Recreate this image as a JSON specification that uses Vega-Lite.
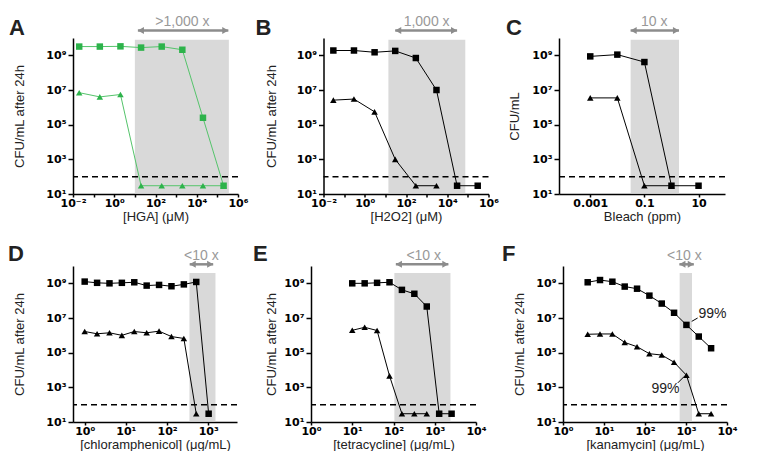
{
"$schema": "https://vega.github.io/schema/vega-lite/v6.json",
"padding": {"left": 8, "top": 15, "right": 0, "bottom": 0},
"spacing": 20,
"datasets": {
"pts": [
{"panel":"A","series":"square","conc":0.02,"cfu":3.2e9},{"panel":"A","series":"square","conc":0.2,"cfu":3.2e9},{"panel":"A","series":"square","conc":2,"cfu":3.3e9},{"panel":"A","series":"square","conc":20,"cfu":2.8e9},{"panel":"A","series":"square","conc":200,"cfu":3.2e9},{"panel":"A","series":"square","conc":2000,"cfu":2.1e9},{"panel":"A","series":"square","conc":20000,"cfu":2.5e5},{"panel":"A","series":"square","conc":200000,"cfu":30},
{"panel":"A","series":"triangle","conc":0.02,"cfu":7e6},{"panel":"A","series":"triangle","conc":0.2,"cfu":4e6},{"panel":"A","series":"triangle","conc":2,"cfu":5.5e6},{"panel":"A","series":"triangle","conc":20,"cfu":30},{"panel":"A","series":"triangle","conc":200,"cfu":30},{"panel":"A","series":"triangle","conc":2000,"cfu":30},{"panel":"A","series":"triangle","conc":20000,"cfu":30},{"panel":"A","series":"triangle","conc":200000,"cfu":30},
{"panel":"B","series":"square","conc":0.03,"cfu":1.9e9},{"panel":"B","series":"square","conc":0.3,"cfu":1.9e9},{"panel":"B","series":"square","conc":3,"cfu":1.5e9},{"panel":"B","series":"square","conc":30,"cfu":1.8e9},{"panel":"B","series":"square","conc":300,"cfu":7e8},{"panel":"B","series":"square","conc":3000,"cfu":1e7},{"panel":"B","series":"square","conc":30000,"cfu":30},{"panel":"B","series":"square","conc":300000,"cfu":30},
{"panel":"B","series":"triangle","conc":0.03,"cfu":2.6e6},{"panel":"B","series":"triangle","conc":0.3,"cfu":3e6},{"panel":"B","series":"triangle","conc":3,"cfu":5.5e5},{"panel":"B","series":"triangle","conc":30,"cfu":1000},{"panel":"B","series":"triangle","conc":300,"cfu":30},{"panel":"B","series":"triangle","conc":3000,"cfu":30},
{"panel":"C","series":"square","conc":0.001,"cfu":8.7e8},{"panel":"C","series":"square","conc":0.01,"cfu":1.1e9},{"panel":"C","series":"square","conc":0.1,"cfu":4.1e8},{"panel":"C","series":"square","conc":1,"cfu":30},{"panel":"C","series":"square","conc":10,"cfu":30},
{"panel":"C","series":"triangle","conc":0.001,"cfu":3.5e6},{"panel":"C","series":"triangle","conc":0.01,"cfu":3.5e6},{"panel":"C","series":"triangle","conc":0.1,"cfu":30},{"panel":"C","series":"triangle","conc":1,"cfu":30},
{"panel":"D","series":"square","conc":1,"cfu":1.26e9},{"panel":"D","series":"square","conc":2,"cfu":1.07e9},{"panel":"D","series":"square","conc":4,"cfu":1e9},{"panel":"D","series":"square","conc":8,"cfu":1.07e9},{"panel":"D","series":"square","conc":16,"cfu":1.15e9},{"panel":"D","series":"square","conc":32,"cfu":7.4e8},{"panel":"D","series":"square","conc":64,"cfu":8.1e8},{"panel":"D","series":"square","conc":128,"cfu":6.8e8},{"panel":"D","series":"square","conc":256,"cfu":8.7e8},{"panel":"D","series":"square","conc":512,"cfu":1.2e9},{"panel":"D","series":"square","conc":1024,"cfu":30},
{"panel":"D","series":"triangle","conc":1,"cfu":1.66e6},{"panel":"D","series":"triangle","conc":2,"cfu":1.23e6},{"panel":"D","series":"triangle","conc":4,"cfu":1.4e6},{"panel":"D","series":"triangle","conc":8,"cfu":1e6},{"panel":"D","series":"triangle","conc":16,"cfu":1.66e6},{"panel":"D","series":"triangle","conc":32,"cfu":1.4e6},{"panel":"D","series":"triangle","conc":64,"cfu":1.74e6},{"panel":"D","series":"triangle","conc":128,"cfu":8.5e5},{"panel":"D","series":"triangle","conc":256,"cfu":6.6e5},{"panel":"D","series":"triangle","conc":512,"cfu":30},
{"panel":"E","series":"square","conc":10,"cfu":1e9},{"panel":"E","series":"square","conc":20,"cfu":1e9},{"panel":"E","series":"square","conc":40,"cfu":1.07e9},{"panel":"E","series":"square","conc":80,"cfu":1.15e9},{"panel":"E","series":"square","conc":160,"cfu":4.2e8},{"panel":"E","series":"square","conc":320,"cfu":2.5e8},{"panel":"E","series":"square","conc":640,"cfu":4.6e7},{"panel":"E","series":"square","conc":1280,"cfu":30},{"panel":"E","series":"square","conc":2560,"cfu":30},
{"panel":"E","series":"triangle","conc":10,"cfu":1.95e6},{"panel":"E","series":"triangle","conc":20,"cfu":2.9e6},{"panel":"E","series":"triangle","conc":40,"cfu":1.9e6},{"panel":"E","series":"triangle","conc":80,"cfu":4600},{"panel":"E","series":"triangle","conc":160,"cfu":30},{"panel":"E","series":"triangle","conc":320,"cfu":30},{"panel":"E","series":"triangle","conc":640,"cfu":30},
{"panel":"F","series":"square","conc":4,"cfu":1.15e9},{"panel":"F","series":"square","conc":8,"cfu":1.55e9},{"panel":"F","series":"square","conc":16,"cfu":1.24e9},{"panel":"F","series":"square","conc":32,"cfu":6.5e8},{"panel":"F","series":"square","conc":64,"cfu":4.9e8},{"panel":"F","series":"square","conc":128,"cfu":1.95e8},{"panel":"F","series":"square","conc":256,"cfu":6.8e7},{"panel":"F","series":"square","conc":512,"cfu":2e7},{"panel":"F","series":"square","conc":1024,"cfu":4e6},{"panel":"F","series":"square","conc":2048,"cfu":8.5e5},{"panel":"F","series":"square","conc":4096,"cfu":1.8e5},
{"panel":"F","series":"triangle","conc":4,"cfu":1.15e6},{"panel":"F","series":"triangle","conc":8,"cfu":1.2e6},{"panel":"F","series":"triangle","conc":16,"cfu":1.2e6},{"panel":"F","series":"triangle","conc":32,"cfu":3.9e5},{"panel":"F","series":"triangle","conc":64,"cfu":2.2e5},{"panel":"F","series":"triangle","conc":128,"cfu":8.7e4},{"panel":"F","series":"triangle","conc":256,"cfu":7.3e4},{"panel":"F","series":"triangle","conc":512,"cfu":2.8e4},{"panel":"F","series":"triangle","conc":1024,"cfu":5000},{"panel":"F","series":"triangle","conc":2048,"cfu":30},{"panel":"F","series":"triangle","conc":4096,"cfu":30}
],
"shade": [
{"panel":"A","lo":10,"hi":360000,"arrowLo":14,"arrowHi":340000,"labelAt":2000,"label":">1,000 x","limit":100},
{"panel":"B","lo":14,"hi":75000,"arrowLo":30,"arrowHi":30000,"labelAt":1000,"label":"1,000 x","limit":100},
{"panel":"C","lo":0.031,"hi":1.9,"arrowLo":0.031,"arrowHi":1.9,"labelAt":0.23,"label":"10 x","limit":100},
{"panel":"D","lo":350,"hi":1500,"arrowLo":355,"arrowHi":1320,"labelAt":680,"label":"<10 x","limit":100},
{"panel":"E","lo":105,"hi":2400,"arrowLo":114,"arrowHi":2140,"labelAt":540,"label":"<10 x","limit":100},
{"panel":"F","lo":700,"hi":1400,"arrowLo":690,"arrowHi":1550,"labelAt":910,"label":"<10 x","limit":100}
],
"notes": [
{"panel":"F","x1":1380,"x2":1920,"y1":6.4e6,"y2":1e7,"tx":4420,"ty":1.7e7,"label":"99%"},
{"panel":"F","x1":630,"x2":910,"y1":1800,"y2":4300,"tx":317,"ty":800,"label":"99%"}
]
},
"vconcat": [
{"spacing": 6.5, "hconcat": [
{"width":165,"height":156,"title":{"text":"A","dx":-64,"offset":-25},
"layer":[
{"data":{"name":"shade"},"transform":[{"filter":"datum.panel=='A'"}],"mark":{"type":"rect","color":"#d9d9d9"},
"encoding":{"x":{"field":"lo","type":"quantitative","scale":{"type":"log","domain":[0.01,1000000],"nice":false},"axis":{"title":"[HGA] (μM)","values":[0.01,0.1,1,10,100,1000,10000,100000,1000000],"labelExpr":"round(log(datum.value)/LN10) % 2 == 0 ? '10' + ['⁻²','⁻¹','⁰','¹','²','³','⁴','⁵','⁶'][round(log(datum.value)/LN10)+2] : ''"}},"x2":{"field":"hi"},
"y":{"datum":11,"type":"quantitative","scale":{"type":"log","domain":[10,1e10],"nice":false},"axis":{"title":"CFU/mL after 24h","titlePadding":22.5,"values":[10,1000,100000,10000000,1000000000],"labelExpr":"'10' + ['⁰','¹','²','³','⁴','⁵','⁶','⁷','⁸','⁹'][round(log(datum.value)/LN10)]"}},"y2":{"datum":8e9}}},
{"data":{"name":"shade"},"transform":[{"filter":"datum.panel=='A'"}],"mark":{"type":"rule","color":"#000","strokeWidth":1.5,"strokeDash":[6,4]},"encoding":{"y":{"field":"limit","type":"quantitative","scale":{"type":"log","domain":[10,1e10],"nice":false}}}},
{"data":{"name":"pts"},"transform":[{"filter":"datum.panel=='A'"}],"mark":{"type":"line","color":"#55c46b","strokeWidth":1},"encoding":{"x":{"field":"conc","type":"quantitative","scale":{"type":"log","domain":[0.01,1000000],"nice":false}},"y":{"field":"cfu","type":"quantitative","scale":{"type":"log","domain":[10,1e10],"nice":false}},"detail":{"field":"series"}}},
{"data":{"name":"pts"},"transform":[{"filter":"datum.panel=='A'"}],"mark":{"type":"point","filled":true,"opacity":1,"color":"#2db34b","size":42},"encoding":{"x":{"field":"conc","type":"quantitative","scale":{"type":"log","domain":[0.01,1000000],"nice":false}},"y":{"field":"cfu","type":"quantitative","scale":{"type":"log","domain":[10,1e10],"nice":false}},"shape":{"field":"series","type":"nominal","scale":{"domain":["square","triangle"],"range":["square","triangle-up"]},"legend":null}}},
{"data":{"name":"shade"},"transform":[{"filter":"datum.panel=='A'"}],"mark":{"type":"rule","color":"#8c8c8c","strokeWidth":2.5},"encoding":{"x":{"field":"arrowLo","type":"quantitative","scale":{"type":"log","domain":[0.01,1000000],"nice":false}},"x2":{"field":"arrowHi"},"y":{"datum":2.7e10,"type":"quantitative","scale":{"type":"log","domain":[10,1e10],"nice":false}}}},
{"data":{"name":"shade"},"transform":[{"filter":"datum.panel=='A'"}],"mark":{"type":"point","shape":"triangle-left","filled":true,"opacity":1,"color":"#8c8c8c","size":50,"xOffset":3},"encoding":{"x":{"field":"arrowLo","type":"quantitative","scale":{"type":"log","domain":[0.01,1000000],"nice":false}},"y":{"datum":2.7e10,"type":"quantitative","scale":{"type":"log","domain":[10,1e10],"nice":false}}}},
{"data":{"name":"shade"},"transform":[{"filter":"datum.panel=='A'"}],"mark":{"type":"point","shape":"triangle-right","filled":true,"opacity":1,"color":"#8c8c8c","size":50,"xOffset":-3},"encoding":{"x":{"field":"arrowHi","type":"quantitative","scale":{"type":"log","domain":[0.01,1000000],"nice":false}},"y":{"datum":2.7e10,"type":"quantitative","scale":{"type":"log","domain":[10,1e10],"nice":false}}}},
{"data":{"name":"shade"},"transform":[{"filter":"datum.panel=='A'"}],"mark":{"type":"text","color":"#999999","fontSize":14,"align":"center","baseline":"middle"},"encoding":{"x":{"field":"labelAt","type":"quantitative","scale":{"type":"log","domain":[0.01,1000000],"nice":false}},"y":{"datum":8.3e10,"type":"quantitative","scale":{"type":"log","domain":[10,1e10],"nice":false}},"text":{"field":"label"}}}
]},
{"width":165,"height":156,"title":{"text":"B","dx":-68,"offset":-25},
"layer":[
{"data":{"name":"shade"},"transform":[{"filter":"datum.panel=='B'"}],"mark":{"type":"rect","color":"#d9d9d9"},
"encoding":{"x":{"field":"lo","type":"quantitative","scale":{"type":"log","domain":[0.01,1000000],"nice":false},"axis":{"title":"[H2O2] (μM)","values":[0.01,0.1,1,10,100,1000,10000,100000,1000000],"labelExpr":"round(log(datum.value)/LN10) % 2 == 0 ? '10' + ['⁻²','⁻¹','⁰','¹','²','³','⁴','⁵','⁶'][round(log(datum.value)/LN10)+2] : ''"}},"x2":{"field":"hi"},
"y":{"datum":11,"type":"quantitative","scale":{"type":"log","domain":[10,1e10],"nice":false},"axis":{"title":"CFU/mL after  24h","titlePadding":21.5,"values":[10,1000,100000,10000000,1000000000],"labelExpr":"'10' + ['⁰','¹','²','³','⁴','⁵','⁶','⁷','⁸','⁹'][round(log(datum.value)/LN10)]"}},"y2":{"datum":8e9}}},
{"data":{"name":"shade"},"transform":[{"filter":"datum.panel=='B'"}],"mark":{"type":"rule","color":"#000","strokeWidth":1.5,"strokeDash":[6,4]},"encoding":{"y":{"field":"limit","type":"quantitative","scale":{"type":"log","domain":[10,1e10],"nice":false}}}},
{"data":{"name":"pts"},"transform":[{"filter":"datum.panel=='B'"}],"mark":{"type":"line","color":"#000","strokeWidth":1},"encoding":{"x":{"field":"conc","type":"quantitative","scale":{"type":"log","domain":[0.01,1000000],"nice":false}},"y":{"field":"cfu","type":"quantitative","scale":{"type":"log","domain":[10,1e10],"nice":false}},"detail":{"field":"series"}}},
{"data":{"name":"pts"},"transform":[{"filter":"datum.panel=='B'"}],"mark":{"type":"point","filled":true,"opacity":1,"color":"#000","size":42},"encoding":{"x":{"field":"conc","type":"quantitative","scale":{"type":"log","domain":[0.01,1000000],"nice":false}},"y":{"field":"cfu","type":"quantitative","scale":{"type":"log","domain":[10,1e10],"nice":false}},"shape":{"field":"series","type":"nominal","scale":{"domain":["square","triangle"],"range":["square","triangle-up"]},"legend":null}}},
{"data":{"name":"shade"},"transform":[{"filter":"datum.panel=='B'"}],"mark":{"type":"rule","color":"#8c8c8c","strokeWidth":2.5},"encoding":{"x":{"field":"arrowLo","type":"quantitative","scale":{"type":"log","domain":[0.01,1000000],"nice":false}},"x2":{"field":"arrowHi"},"y":{"datum":2.7e10,"type":"quantitative","scale":{"type":"log","domain":[10,1e10],"nice":false}}}},
{"data":{"name":"shade"},"transform":[{"filter":"datum.panel=='B'"}],"mark":{"type":"point","shape":"triangle-left","filled":true,"opacity":1,"color":"#8c8c8c","size":50,"xOffset":3},"encoding":{"x":{"field":"arrowLo","type":"quantitative","scale":{"type":"log","domain":[0.01,1000000],"nice":false}},"y":{"datum":2.7e10,"type":"quantitative","scale":{"type":"log","domain":[10,1e10],"nice":false}}}},
{"data":{"name":"shade"},"transform":[{"filter":"datum.panel=='B'"}],"mark":{"type":"point","shape":"triangle-right","filled":true,"opacity":1,"color":"#8c8c8c","size":50,"xOffset":-3},"encoding":{"x":{"field":"arrowHi","type":"quantitative","scale":{"type":"log","domain":[0.01,1000000],"nice":false}},"y":{"datum":2.7e10,"type":"quantitative","scale":{"type":"log","domain":[10,1e10],"nice":false}}}},
{"data":{"name":"shade"},"transform":[{"filter":"datum.panel=='B'"}],"mark":{"type":"text","color":"#999999","fontSize":14,"align":"center","baseline":"middle"},"encoding":{"x":{"field":"labelAt","type":"quantitative","scale":{"type":"log","domain":[0.01,1000000],"nice":false}},"y":{"datum":8.3e10,"type":"quantitative","scale":{"type":"log","domain":[10,1e10],"nice":false}},"text":{"field":"label"}}}
]},
{"width":166,"height":156,"title":{"text":"C","dx":-53,"offset":-25},
"layer":[
{"data":{"name":"shade"},"transform":[{"filter":"datum.panel=='C'"}],"mark":{"type":"rect","color":"#d9d9d9"},
"encoding":{"x":{"field":"lo","type":"quantitative","scale":{"type":"log","domain":[0.00007,95],"nice":false},"axis":{"title":"Bleach (ppm)","values":[0.001,0.1,10],"format":"~g"}},"x2":{"field":"hi"},
"y":{"datum":11,"type":"quantitative","scale":{"type":"log","domain":[10,1e10],"nice":false},"axis":{"title":"CFU/mL","titlePadding":13.5,"values":[10,1000,100000,10000000,1000000000],"labelExpr":"'10' + ['⁰','¹','²','³','⁴','⁵','⁶','⁷','⁸','⁹'][round(log(datum.value)/LN10)]"}},"y2":{"datum":8e9}}},
{"data":{"name":"shade"},"transform":[{"filter":"datum.panel=='C'"}],"mark":{"type":"rule","color":"#000","strokeWidth":1.5,"strokeDash":[6,4]},"encoding":{"y":{"field":"limit","type":"quantitative","scale":{"type":"log","domain":[10,1e10],"nice":false}}}},
{"data":{"name":"pts"},"transform":[{"filter":"datum.panel=='C'"}],"mark":{"type":"line","color":"#000","strokeWidth":1},"encoding":{"x":{"field":"conc","type":"quantitative","scale":{"type":"log","domain":[0.00007,95],"nice":false}},"y":{"field":"cfu","type":"quantitative","scale":{"type":"log","domain":[10,1e10],"nice":false}},"detail":{"field":"series"}}},
{"data":{"name":"pts"},"transform":[{"filter":"datum.panel=='C'"}],"mark":{"type":"point","filled":true,"opacity":1,"color":"#000","size":42},"encoding":{"x":{"field":"conc","type":"quantitative","scale":{"type":"log","domain":[0.00007,95],"nice":false}},"y":{"field":"cfu","type":"quantitative","scale":{"type":"log","domain":[10,1e10],"nice":false}},"shape":{"field":"series","type":"nominal","scale":{"domain":["square","triangle"],"range":["square","triangle-up"]},"legend":null}}},
{"data":{"name":"shade"},"transform":[{"filter":"datum.panel=='C'"}],"mark":{"type":"rule","color":"#8c8c8c","strokeWidth":2.5},"encoding":{"x":{"field":"arrowLo","type":"quantitative","scale":{"type":"log","domain":[0.00007,95],"nice":false}},"x2":{"field":"arrowHi"},"y":{"datum":2.7e10,"type":"quantitative","scale":{"type":"log","domain":[10,1e10],"nice":false}}}},
{"data":{"name":"shade"},"transform":[{"filter":"datum.panel=='C'"}],"mark":{"type":"point","shape":"triangle-left","filled":true,"opacity":1,"color":"#8c8c8c","size":50,"xOffset":3},"encoding":{"x":{"field":"arrowLo","type":"quantitative","scale":{"type":"log","domain":[0.00007,95],"nice":false}},"y":{"datum":2.7e10,"type":"quantitative","scale":{"type":"log","domain":[10,1e10],"nice":false}}}},
{"data":{"name":"shade"},"transform":[{"filter":"datum.panel=='C'"}],"mark":{"type":"point","shape":"triangle-right","filled":true,"opacity":1,"color":"#8c8c8c","size":50,"xOffset":-3},"encoding":{"x":{"field":"arrowHi","type":"quantitative","scale":{"type":"log","domain":[0.00007,95],"nice":false}},"y":{"datum":2.7e10,"type":"quantitative","scale":{"type":"log","domain":[10,1e10],"nice":false}}}},
{"data":{"name":"shade"},"transform":[{"filter":"datum.panel=='C'"}],"mark":{"type":"text","color":"#999999","fontSize":14,"align":"center","baseline":"middle"},"encoding":{"x":{"field":"labelAt","type":"quantitative","scale":{"type":"log","domain":[0.00007,95],"nice":false}},"y":{"datum":8.3e10,"type":"quantitative","scale":{"type":"log","domain":[10,1e10],"nice":false}},"text":{"field":"label"}}}
]}
]},
{"spacing": 15, "hconcat": [
{"width":164,"height":156,"title":{"text":"D","dx":-65,"offset":-17},
"layer":[
{"data":{"name":"shade"},"transform":[{"filter":"datum.panel=='D'"}],"mark":{"type":"rect","color":"#d9d9d9"},
"encoding":{"x":{"field":"lo","type":"quantitative","scale":{"type":"log","domain":[0.52,5000],"nice":false},"axis":{"title":"[chloramphenicol] (μg/mL)","values":[1,10,100,1000],"labelExpr":"'10' + ['⁰','¹','²','³','⁴'][round(log(datum.value)/LN10)]"}},"x2":{"field":"hi"},
"y":{"datum":11,"type":"quantitative","scale":{"type":"log","domain":[10,1e10],"nice":false},"axis":{"title":"CFU/mL after  24h","titlePadding":22.5,"values":[10,1000,100000,10000000,1000000000],"labelExpr":"'10' + ['⁰','¹','²','³','⁴','⁵','⁶','⁷','⁸','⁹'][round(log(datum.value)/LN10)]"}},"y2":{"datum":4e9}}},
{"data":{"name":"shade"},"transform":[{"filter":"datum.panel=='D'"}],"mark":{"type":"rule","color":"#000","strokeWidth":1.5,"strokeDash":[6,4]},"encoding":{"y":{"field":"limit","type":"quantitative","scale":{"type":"log","domain":[10,1e10],"nice":false}}}},
{"data":{"name":"pts"},"transform":[{"filter":"datum.panel=='D'"}],"mark":{"type":"line","color":"#000","strokeWidth":1},"encoding":{"x":{"field":"conc","type":"quantitative","scale":{"type":"log","domain":[0.52,5000],"nice":false}},"y":{"field":"cfu","type":"quantitative","scale":{"type":"log","domain":[10,1e10],"nice":false}},"detail":{"field":"series"}}},
{"data":{"name":"pts"},"transform":[{"filter":"datum.panel=='D'"}],"mark":{"type":"point","filled":true,"opacity":1,"color":"#000","size":42},"encoding":{"x":{"field":"conc","type":"quantitative","scale":{"type":"log","domain":[0.52,5000],"nice":false}},"y":{"field":"cfu","type":"quantitative","scale":{"type":"log","domain":[10,1e10],"nice":false}},"shape":{"field":"series","type":"nominal","scale":{"domain":["square","triangle"],"range":["square","triangle-up"]},"legend":null}}},
{"data":{"name":"shade"},"transform":[{"filter":"datum.panel=='D'"}],"mark":{"type":"rule","color":"#8c8c8c","strokeWidth":2.5},"encoding":{"x":{"field":"arrowLo","type":"quantitative","scale":{"type":"log","domain":[0.52,5000],"nice":false}},"x2":{"field":"arrowHi"},"y":{"datum":1.25e10,"type":"quantitative","scale":{"type":"log","domain":[10,1e10],"nice":false}}}},
{"data":{"name":"shade"},"transform":[{"filter":"datum.panel=='D'"}],"mark":{"type":"point","shape":"triangle-left","filled":true,"opacity":1,"color":"#8c8c8c","size":50,"xOffset":3},"encoding":{"x":{"field":"arrowLo","type":"quantitative","scale":{"type":"log","domain":[0.52,5000],"nice":false}},"y":{"datum":1.25e10,"type":"quantitative","scale":{"type":"log","domain":[10,1e10],"nice":false}}}},
{"data":{"name":"shade"},"transform":[{"filter":"datum.panel=='D'"}],"mark":{"type":"point","shape":"triangle-right","filled":true,"opacity":1,"color":"#8c8c8c","size":50,"xOffset":-3},"encoding":{"x":{"field":"arrowHi","type":"quantitative","scale":{"type":"log","domain":[0.52,5000],"nice":false}},"y":{"datum":1.25e10,"type":"quantitative","scale":{"type":"log","domain":[10,1e10],"nice":false}}}},
{"data":{"name":"shade"},"transform":[{"filter":"datum.panel=='D'"}],"mark":{"type":"text","color":"#999999","fontSize":14,"align":"center","baseline":"middle"},"encoding":{"x":{"field":"labelAt","type":"quantitative","scale":{"type":"log","domain":[0.52,5000],"nice":false}},"y":{"datum":3.7e10,"type":"quantitative","scale":{"type":"log","domain":[10,1e10],"nice":false}},"text":{"field":"label"}}}
]},
{"width":165,"height":156,"title":{"text":"E","dx":-58,"offset":-17},
"layer":[
{"data":{"name":"shade"},"transform":[{"filter":"datum.panel=='E'"}],"mark":{"type":"rect","color":"#d9d9d9"},
"encoding":{"x":{"field":"lo","type":"quantitative","scale":{"type":"log","domain":[1,10000],"nice":false},"axis":{"title":"[tetracycline] (μg/mL)","values":[1,10,100,1000,10000],"labelExpr":"'10' + ['⁰','¹','²','³','⁴'][round(log(datum.value)/LN10)]"}},"x2":{"field":"hi"},
"y":{"datum":11,"type":"quantitative","scale":{"type":"log","domain":[10,1e10],"nice":false},"axis":{"title":"CFU/mL after 24h","titlePadding":8.5,"values":[10,1000,100000,10000000,1000000000],"labelExpr":"'10' + ['⁰','¹','²','³','⁴','⁵','⁶','⁷','⁸','⁹'][round(log(datum.value)/LN10)]"}},"y2":{"datum":4e9}}},
{"data":{"name":"shade"},"transform":[{"filter":"datum.panel=='E'"}],"mark":{"type":"rule","color":"#000","strokeWidth":1.5,"strokeDash":[6,4]},"encoding":{"y":{"field":"limit","type":"quantitative","scale":{"type":"log","domain":[10,1e10],"nice":false}}}},
{"data":{"name":"pts"},"transform":[{"filter":"datum.panel=='E'"}],"mark":{"type":"line","color":"#000","strokeWidth":1},"encoding":{"x":{"field":"conc","type":"quantitative","scale":{"type":"log","domain":[1,10000],"nice":false}},"y":{"field":"cfu","type":"quantitative","scale":{"type":"log","domain":[10,1e10],"nice":false}},"detail":{"field":"series"}}},
{"data":{"name":"pts"},"transform":[{"filter":"datum.panel=='E'"}],"mark":{"type":"point","filled":true,"opacity":1,"color":"#000","size":42},"encoding":{"x":{"field":"conc","type":"quantitative","scale":{"type":"log","domain":[1,10000],"nice":false}},"y":{"field":"cfu","type":"quantitative","scale":{"type":"log","domain":[10,1e10],"nice":false}},"shape":{"field":"series","type":"nominal","scale":{"domain":["square","triangle"],"range":["square","triangle-up"]},"legend":null}}},
{"data":{"name":"shade"},"transform":[{"filter":"datum.panel=='E'"}],"mark":{"type":"rule","color":"#8c8c8c","strokeWidth":2.5},"encoding":{"x":{"field":"arrowLo","type":"quantitative","scale":{"type":"log","domain":[1,10000],"nice":false}},"x2":{"field":"arrowHi"},"y":{"datum":1.25e10,"type":"quantitative","scale":{"type":"log","domain":[10,1e10],"nice":false}}}},
{"data":{"name":"shade"},"transform":[{"filter":"datum.panel=='E'"}],"mark":{"type":"point","shape":"triangle-left","filled":true,"opacity":1,"color":"#8c8c8c","size":50,"xOffset":3},"encoding":{"x":{"field":"arrowLo","type":"quantitative","scale":{"type":"log","domain":[1,10000],"nice":false}},"y":{"datum":1.25e10,"type":"quantitative","scale":{"type":"log","domain":[10,1e10],"nice":false}}}},
{"data":{"name":"shade"},"transform":[{"filter":"datum.panel=='E'"}],"mark":{"type":"point","shape":"triangle-right","filled":true,"opacity":1,"color":"#8c8c8c","size":50,"xOffset":-3},"encoding":{"x":{"field":"arrowHi","type":"quantitative","scale":{"type":"log","domain":[1,10000],"nice":false}},"y":{"datum":1.25e10,"type":"quantitative","scale":{"type":"log","domain":[10,1e10],"nice":false}}}},
{"data":{"name":"shade"},"transform":[{"filter":"datum.panel=='E'"}],"mark":{"type":"text","color":"#999999","fontSize":14,"align":"center","baseline":"middle"},"encoding":{"x":{"field":"labelAt","type":"quantitative","scale":{"type":"log","domain":[1,10000],"nice":false}},"y":{"datum":3.7e10,"type":"quantitative","scale":{"type":"log","domain":[10,1e10],"nice":false}},"text":{"field":"label"}}}
]},
{"width":164,"height":156,"title":{"text":"F","dx":-61,"offset":-17},
"layer":[
{"data":{"name":"shade"},"transform":[{"filter":"datum.panel=='F'"}],"mark":{"type":"rect","color":"#d9d9d9"},
"encoding":{"x":{"field":"lo","type":"quantitative","scale":{"type":"log","domain":[1,10000],"nice":false},"axis":{"title":"[kanamycin] (μg/mL)","values":[1,10,100,1000,10000],"labelExpr":"'10' + ['⁰','¹','²','³','⁴'][round(log(datum.value)/LN10)]"}},"x2":{"field":"hi"},
"y":{"datum":11,"type":"quantitative","scale":{"type":"log","domain":[10,1e10],"nice":false},"axis":{"title":"CFU/mL after  24h","titlePadding":12.5,"values":[10,1000,100000,10000000,1000000000],"labelExpr":"'10' + ['⁰','¹','²','³','⁴','⁵','⁶','⁷','⁸','⁹'][round(log(datum.value)/LN10)]"}},"y2":{"datum":4e9}}},
{"data":{"name":"shade"},"transform":[{"filter":"datum.panel=='F'"}],"mark":{"type":"rule","color":"#000","strokeWidth":1.5,"strokeDash":[6,4]},"encoding":{"y":{"field":"limit","type":"quantitative","scale":{"type":"log","domain":[10,1e10],"nice":false}}}},
{"data":{"name":"pts"},"transform":[{"filter":"datum.panel=='F'"}],"mark":{"type":"line","color":"#000","strokeWidth":1},"encoding":{"x":{"field":"conc","type":"quantitative","scale":{"type":"log","domain":[1,10000],"nice":false}},"y":{"field":"cfu","type":"quantitative","scale":{"type":"log","domain":[10,1e10],"nice":false}},"detail":{"field":"series"}}},
{"data":{"name":"pts"},"transform":[{"filter":"datum.panel=='F'"}],"mark":{"type":"point","filled":true,"opacity":1,"color":"#000","size":42},"encoding":{"x":{"field":"conc","type":"quantitative","scale":{"type":"log","domain":[1,10000],"nice":false}},"y":{"field":"cfu","type":"quantitative","scale":{"type":"log","domain":[10,1e10],"nice":false}},"shape":{"field":"series","type":"nominal","scale":{"domain":["square","triangle"],"range":["square","triangle-up"]},"legend":null}}},
{"data":{"name":"notes"},"mark":{"type":"rule","color":"#000","strokeWidth":1},"encoding":{"x":{"field":"x1","type":"quantitative","scale":{"type":"log","domain":[1,10000],"nice":false}},"x2":{"field":"x2"},"y":{"field":"y1","type":"quantitative","scale":{"type":"log","domain":[10,1e10],"nice":false}},"y2":{"field":"y2"}}},
{"data":{"name":"notes"},"mark":{"type":"text","color":"#222","fontSize":14,"align":"center","baseline":"middle"},"encoding":{"x":{"field":"tx","type":"quantitative","scale":{"type":"log","domain":[1,10000],"nice":false}},"y":{"field":"ty","type":"quantitative","scale":{"type":"log","domain":[10,1e10],"nice":false}},"text":{"field":"label"}}},
{"data":{"name":"shade"},"transform":[{"filter":"datum.panel=='F'"}],"mark":{"type":"rule","color":"#8c8c8c","strokeWidth":2.5},"encoding":{"x":{"field":"arrowLo","type":"quantitative","scale":{"type":"log","domain":[1,10000],"nice":false}},"x2":{"field":"arrowHi"},"y":{"datum":1.25e10,"type":"quantitative","scale":{"type":"log","domain":[10,1e10],"nice":false}}}},
{"data":{"name":"shade"},"transform":[{"filter":"datum.panel=='F'"}],"mark":{"type":"point","shape":"triangle-left","filled":true,"opacity":1,"color":"#8c8c8c","size":50,"xOffset":3},"encoding":{"x":{"field":"arrowLo","type":"quantitative","scale":{"type":"log","domain":[1,10000],"nice":false}},"y":{"datum":1.25e10,"type":"quantitative","scale":{"type":"log","domain":[10,1e10],"nice":false}}}},
{"data":{"name":"shade"},"transform":[{"filter":"datum.panel=='F'"}],"mark":{"type":"point","shape":"triangle-right","filled":true,"opacity":1,"color":"#8c8c8c","size":50,"xOffset":-3},"encoding":{"x":{"field":"arrowHi","type":"quantitative","scale":{"type":"log","domain":[1,10000],"nice":false}},"y":{"datum":1.25e10,"type":"quantitative","scale":{"type":"log","domain":[10,1e10],"nice":false}}}},
{"data":{"name":"shade"},"transform":[{"filter":"datum.panel=='F'"}],"mark":{"type":"text","color":"#999999","fontSize":14,"align":"center","baseline":"middle"},"encoding":{"x":{"field":"labelAt","type":"quantitative","scale":{"type":"log","domain":[1,10000],"nice":false}},"y":{"datum":3.7e10,"type":"quantitative","scale":{"type":"log","domain":[10,1e10],"nice":false}},"text":{"field":"label"}}}
]}
]}
],
"config": {
"font": "Liberation Sans",
"view": {"stroke": null},
"axis": {"grid": false, "domainColor": "#000", "domainWidth": 1.5, "tickColor": "#000", "tickWidth": 1.5, "labelFont": "DejaVu Sans", "labelFontWeight": "bold", "labelFontSize": 11, "labelColor": "#000", "titleFont": "Liberation Sans", "titleFontWeight": "normal", "titleFontSize": 13, "titleColor": "#222", "labelFlush": false, "labelOverlap": false},
"axisX": {"tickSize": 3, "labelPadding": 0, "titlePadding": 2, "minExtent": 14, "maxExtent": 14},
"axisY": {"tickSize": 5, "labelPadding": 2, "minExtent": 24, "maxExtent": 24},
"title": {"fontSize": 22, "fontWeight": "bold", "anchor": "start", "frame": "group", "baseline": "alphabetic", "color": "#222"}
}
}
